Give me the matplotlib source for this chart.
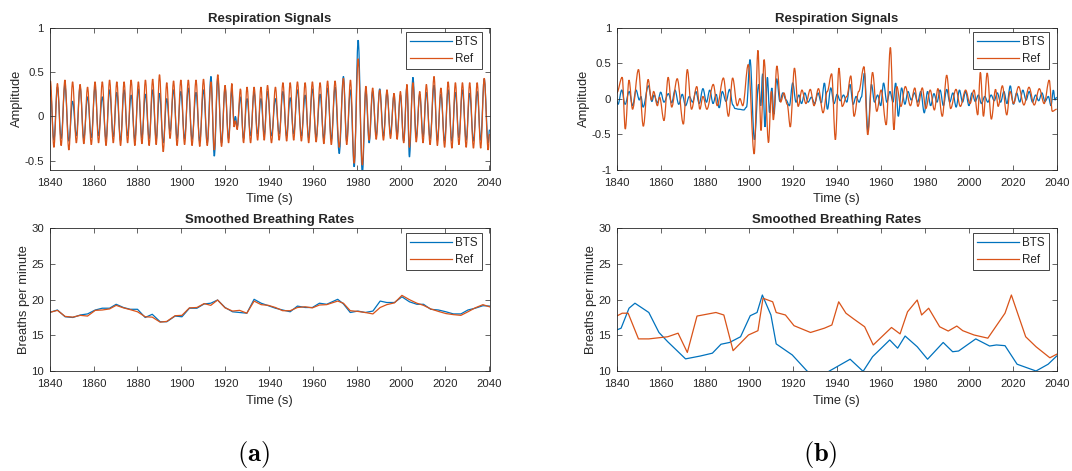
import matplotlib

matplotlib.use("Agg")
import matplotlib.pyplot as plt
from matplotlib.lines import Line2D
from matplotlib.patches import PathPatch
from matplotlib.path import Path

# ---- (a) respiration signals: extrema (time, Ref, BTS)
resp_a_t = [
    1840.0, 1840.4, 1842.0, 1843.6, 1845.3, 1847.0, 1848.8, 1850.5, 1852.2, 1853.9,
    1855.6, 1857.3, 1859.0, 1860.7, 1862.3, 1864.0, 1865.7, 1867.3, 1869.0, 1870.6,
    1872.3, 1873.9, 1875.5, 1877.1, 1878.8, 1880.4, 1882.0, 1883.6, 1885.3, 1886.9,
    1888.5, 1890.0, 1891.7, 1893.3, 1894.8, 1896.4, 1898.0, 1899.7, 1901.4, 1903.1,
    1904.8, 1906.6, 1908.3, 1910.0, 1911.7, 1913.4, 1914.9, 1916.5, 1918.2, 1919.8,
    1921.4, 1922.9, 1923.9, 1924.5, 1925.3, 1926.8, 1928.2, 1929.8, 1931.4, 1933.0,
    1934.6, 1936.1, 1937.6, 1939.1, 1940.9, 1942.7, 1944.4, 1946.1, 1947.8, 1949.4,
    1951.0, 1952.7, 1954.5, 1956.2, 1957.8, 1959.5, 1961.2, 1963.0, 1964.7, 1966.4,
    1968.1, 1969.8, 1971.7, 1973.6, 1975.1, 1976.8, 1978.5, 1980.3, 1982.2, 1983.8,
    1985.3, 1986.9, 1988.5, 1990.1, 1991.8, 1993.4, 1995.0, 1996.6, 1998.0, 1999.5,
    2001.0, 2002.5, 2003.6, 2005.2, 2006.7, 2008.3, 2009.8, 2011.3, 2013.0, 2014.8,
    2016.3, 2017.9, 2019.6, 2021.2, 2022.9, 2024.5, 2026.1, 2027.7, 2029.4, 2031.0,
    2032.7, 2034.4, 2036.0, 2037.6, 2039.4, 2040.0,
]
resp_a_ref = [
    0.30, 0.40, -0.35, 0.37, -0.33, 0.41, -0.38, 0.39, -0.30, 0.36,
    -0.31, 0.33, -0.32, 0.39, -0.30, 0.39, -0.33, 0.41, -0.30, 0.39,
    -0.33, 0.39, -0.30, 0.41, -0.33, 0.39, -0.31, 0.41, -0.33, 0.42,
    -0.32, 0.47, -0.40, 0.38, -0.25, 0.40, -0.33, 0.41, -0.32, 0.41,
    -0.33, 0.41, -0.34, 0.42, -0.33, 0.39, -0.38, 0.47, -0.34, 0.35,
    -0.30, 0.37, -0.12, -0.05, -0.15, 0.31, -0.30, 0.33, -0.30, 0.33,
    -0.27, 0.33, -0.27, 0.35, -0.30, 0.33, -0.27, 0.38, -0.28, 0.38,
    -0.27, 0.39, -0.28, 0.38, -0.30, 0.39, -0.29, 0.38, -0.31, 0.40,
    -0.32, 0.40, -0.35, 0.43, -0.32, 0.41, -0.53, 0.65, -0.55, 0.34,
    -0.27, 0.32, -0.26, 0.30, -0.27, 0.30, -0.25, 0.26, -0.26, 0.28,
    -0.30, 0.36, -0.35, 0.38, -0.29, 0.28, -0.30, 0.36, -0.32, 0.45,
    -0.33, 0.32, -0.35, 0.39, -0.36, 0.38, -0.32, 0.38, -0.35, 0.38,
    -0.36, 0.38, -0.36, 0.43, -0.38, -0.20,
]
resp_a_bts = [
    0.22, 0.30, -0.27, 0.33, -0.25, 0.35, -0.28, 0.17, -0.22, 0.33,
    -0.25, 0.22, -0.24, 0.33, -0.22, 0.22, -0.26, 0.30, -0.23, 0.27,
    -0.27, 0.30, -0.22, 0.24, -0.26, 0.31, -0.24, 0.25, -0.25, 0.30,
    -0.26, 0.26, -0.30, 0.20, -0.17, 0.30, -0.25, 0.28, -0.25, 0.32,
    -0.26, 0.27, -0.28, 0.30, -0.30, 0.45, -0.45, 0.43, -0.30, 0.32,
    -0.25, 0.30, -0.08, 0.00, -0.12, 0.22, -0.25, 0.20, -0.22, 0.27,
    -0.20, 0.20, -0.21, 0.28, -0.22, 0.20, -0.20, 0.28, -0.22, 0.21,
    -0.20, 0.30, -0.22, 0.24, -0.24, 0.31, -0.24, 0.25, -0.25, 0.32,
    -0.26, 0.33, -0.42, 0.45, -0.28, 0.30, -0.57, 0.86, -0.65, 0.30,
    -0.30, 0.28, -0.22, 0.31, -0.22, 0.27, -0.20, 0.24, -0.21, 0.24,
    -0.28, 0.34, -0.46, 0.44, -0.24, 0.25, -0.23, 0.27, -0.25, 0.35,
    -0.27, 0.25, -0.28, 0.30, -0.28, 0.27, -0.24, 0.30, -0.27, 0.26,
    -0.28, 0.28, -0.27, 0.42, -0.30, -0.15,
]

# ---- (b) respiration signals, the two series are out of phase
resp_b_ref_t = [
    1840.0, 1842.5, 1843.9, 1845.6, 1847.2, 1849.9, 1852.1, 1854.3, 1855.8, 1856.8,
    1858.5, 1859.5, 1861.5, 1863.4, 1865.0, 1867.5, 1870.3, 1872.1, 1874.0, 1876.4,
    1877.8, 1879.2, 1881.0, 1883.9, 1885.7, 1888.5, 1890.8, 1892.7, 1894.8, 1896.0,
    1897.3, 1899.8, 1902.5, 1904.2, 1905.6, 1907.0, 1909.0, 1910.3, 1911.2, 1912.8,
    1914.5, 1916.0, 1917.5, 1918.9, 1920.8, 1922.5, 1924.2, 1926.0, 1928.0, 1929.7,
    1931.7, 1933.8, 1935.7, 1937.7, 1939.4, 1941.0, 1942.5, 1944.6, 1946.4, 1947.9,
    1950.0, 1952.4, 1954.1, 1956.3, 1958.2, 1960.2, 1962.5, 1964.4, 1966.0, 1967.3,
    1969.2, 1971.2, 1973.5, 1975.5, 1976.9, 1978.9, 1980.5, 1982.5, 1984.4, 1986.0,
    1988.0, 1990.0, 1991.8, 1994.2, 1996.2, 1998.6, 2000.6, 2002.4, 2004.1, 2005.3,
    2006.7, 2008.4, 2010.3, 2012.2, 2013.4, 2015.3, 2017.3, 2018.8, 2020.4, 2022.7,
    2025.1, 2027.4, 2029.8, 2032.1, 2034.3, 2036.6, 2038.0, 2040.0,
]
resp_b_ref = [
    0.08, 0.30, -0.43, 0.26, -0.15, 0.41, -0.39, 0.27, -0.02, 0.10,
    -0.10, 0.02, -0.31, 0.30, -0.12, 0.28, -0.36, 0.41, -0.15, 0.17,
    -0.15, 0.03, -0.15, 0.20, -0.10, 0.29, -0.25, 0.29, -0.10, 0.00,
    -0.10, 0.48, -0.78, 0.68, -0.45, 0.55, -0.62, 0.10, -0.30, 0.46,
    -0.05, 0.08, -0.08, -0.40, 0.43, -0.11, 0.12, -0.07, 0.13, -0.10,
    0.14, -0.20, 0.10, 0.35, -0.58, 0.43, -0.11, 0.03, 0.32, -0.25,
    0.10, 0.45, -0.51, 0.37, -0.18, 0.12, -0.37, 0.72, -0.44, 0.17,
    -0.11, 0.17, -0.10, 0.15, -0.11, 0.15, -0.14, 0.12, -0.16, 0.14,
    -0.25, 0.33, -0.14, 0.13, -0.11, 0.12, -0.07, 0.12, -0.23, 0.37,
    -0.25, 0.36, -0.29, 0.13, -0.11, 0.18, -0.23, 0.10, -0.07, 0.17,
    -0.09, 0.16, -0.09, 0.14, -0.07, 0.26, -0.18, -0.15,
]
resp_b_bts_t = [
    1840.0, 1840.6, 1842.3, 1843.8, 1845.7, 1847.2, 1848.8, 1850.3, 1851.0, 1852.0,
    1854.4, 1856.0, 1857.0, 1858.5, 1860.0, 1861.5, 1863.5, 1865.0, 1866.5, 1868.2,
    1869.8, 1871.3, 1873.0, 1874.5, 1876.0, 1877.5, 1879.2, 1880.8, 1882.3, 1883.8,
    1885.2, 1886.6, 1888.0, 1889.7, 1891.3, 1892.8, 1893.8, 1895.5, 1897.8, 1899.0,
    1900.6, 1902.6, 1904.5, 1905.5, 1906.3, 1907.4, 1908.5, 1909.5, 1910.5, 1911.5,
    1912.7, 1914.2, 1915.5, 1917.0, 1918.5, 1920.0, 1921.5, 1922.8, 1924.0, 1925.5,
    1927.0, 1928.5, 1930.0, 1931.5, 1933.0, 1934.4, 1935.8, 1937.3, 1938.8, 1940.2,
    1941.6, 1943.1, 1944.6, 1946.0, 1947.5, 1948.8, 1950.2, 1951.2, 1952.6, 1954.2,
    1955.8, 1957.2, 1958.6, 1960.0, 1961.3, 1962.8, 1964.2, 1965.6, 1966.8, 1968.0,
    1969.5, 1971.0, 1972.4, 1973.9, 1975.3, 1976.8, 1978.2, 1979.8, 1981.3, 1982.7,
    1984.2, 1985.6, 1987.0, 1988.5, 1990.0, 1991.4, 1992.8, 1994.3, 1995.8, 1997.2,
    1998.6, 2000.1, 2001.5, 2003.0, 2004.4, 2005.8, 2007.3, 2008.7, 2010.2, 2011.6,
    2013.0, 2014.5, 2016.0, 2017.4, 2018.9, 2020.3, 2021.8, 2023.2, 2024.6, 2026.1,
    2027.5, 2029.0, 2030.4, 2031.8, 2033.3, 2034.7, 2036.2, 2037.4, 2038.5, 2039.2,
    2040.0,
]
resp_b_bts = [
    -0.03, -0.08, 0.12, -0.08, 0.10, -0.10, 0.12, -0.02, 0.03, -0.12,
    0.18, -0.04, 0.05, -0.06, 0.09, -0.05, 0.07, -0.06, 0.12, -0.08,
    0.06, -0.10, 0.03, -0.05, 0.10, -0.07, 0.14, -0.05, 0.12, -0.07,
    0.06, -0.13, 0.10, -0.04, 0.13, -0.09, -0.14, -0.15, -0.16, -0.12,
    0.55, -0.58, 0.20, -0.10, 0.35, -0.40, 0.30, -0.20, 0.15, -0.22,
    0.28, -0.04, 0.08, -0.02, -0.10, 0.22, -0.05, 0.05, -0.07, 0.08,
    -0.05, 0.02, -0.07, 0.08, -0.06, 0.22, -0.15, 0.15, -0.07, 0.06,
    -0.03, 0.05, -0.05, 0.20, -0.08, 0.03, -0.05, 0.02, 0.36, -0.45,
    0.20, -0.05, 0.05, -0.10, 0.22, -0.05, 0.10, -0.05, 0.22, -0.25,
    0.15, -0.08, 0.10, -0.02, 0.08, -0.05, 0.10, -0.20, 0.10, -0.10,
    0.07, -0.05, 0.12, -0.10, 0.13, -0.05, 0.08, -0.12, 0.12, -0.05,
    0.10, -0.10, 0.08, -0.04, 0.05, -0.07, 0.03, -0.05, 0.05, -0.03,
    0.08, -0.05, 0.10, -0.07, 0.18, -0.08, 0.08, -0.05, 0.12, -0.02,
    0.10, -0.05, 0.05, -0.03, 0.08, -0.04, 0.03, -0.10, 0.12, -0.02,
    0.02,
]

# ---- (a) smoothed breathing rates
rate_a_t = [
    1840.0, 1843.6, 1847.1, 1850.6, 1854.0, 1857.3, 1860.8, 1864.0, 1867.3, 1870.3,
    1873.6, 1876.7, 1880.0, 1883.5, 1886.7, 1890.3, 1893.3, 1897.1, 1900.2, 1903.6,
    1907.0, 1910.3, 1913.3, 1916.4, 1919.8, 1923.2, 1926.4, 1929.7, 1933.0, 1936.2,
    1939.5, 1942.7, 1946.0, 1949.4, 1952.7, 1956.2, 1959.5, 1962.7, 1966.0, 1971.0,
    1973.6, 1976.7, 1980.2, 1983.5, 1987.0, 1990.3, 1993.3, 1996.8, 2000.2, 2003.6,
    2007.0, 2010.0, 2013.3, 2016.8, 2020.2, 2023.6, 2027.0, 2030.2, 2033.5, 2037.0,
    2040.0,
]
rate_a_bts = [
    18.20, 18.55, 17.60, 17.50, 17.85, 18.00, 18.55, 18.80, 18.80, 19.35,
    18.90, 18.65, 18.65, 17.50, 17.95, 16.90, 16.90, 17.70, 17.60, 18.80,
    18.80, 19.40, 19.50, 19.95, 18.90, 18.30, 18.20, 18.10, 20.05, 19.50,
    19.15, 18.80, 18.55, 18.30, 19.10, 18.90, 18.90, 19.50, 19.35, 20.05,
    19.40, 18.20, 18.40, 18.20, 18.40, 19.80, 19.60, 19.60, 20.40, 19.70,
    19.35, 19.35, 18.65, 18.55, 18.30, 18.00, 18.00, 18.55, 18.80, 19.15,
    19.10,
]
rate_a_ref = [
    18.20, 18.50, 17.65, 17.55, 17.80, 17.70, 18.50, 18.55, 18.70, 19.20,
    18.85, 18.60, 18.30, 17.60, 17.55, 16.85, 16.95, 17.75, 17.80, 18.85,
    18.90, 19.45, 19.20, 19.95, 18.85, 18.40, 18.50, 18.10, 19.80, 19.30,
    19.20, 18.90, 18.45, 18.45, 18.90, 19.00, 18.85, 19.25, 19.30, 19.80,
    19.50, 18.45, 18.35, 18.20, 18.00, 18.90, 19.30, 19.55, 20.60, 20.00,
    19.50, 19.20, 18.70, 18.35, 18.05, 17.90, 17.80, 18.30, 18.85, 19.30,
    19.00,
]

# ---- (b) smoothed breathing rates
rate_b_bts_t = [
    1840.0, 1842.0, 1845.6, 1848.3, 1854.6, 1859.2, 1863.2, 1871.3, 1878.0, 1883.5,
    1887.4, 1891.3, 1896.3, 1900.7, 1903.8, 1906.2, 1910.1, 1912.5, 1919.8, 1926.5,
    1931.5, 1936.7, 1946.1, 1952.0, 1956.3, 1964.1, 1967.7, 1971.1, 1976.6, 1981.3,
    1988.4, 1992.7, 1995.4, 2003.2, 2009.5, 2012.6, 2016.5, 2022.0, 2030.6, 2036.1,
    2040.0,
]
rate_b_bts = [
    15.75, 16.00, 18.80, 19.50, 18.20, 15.40, 14.10, 11.70, 12.10, 12.50,
    13.75, 14.00, 14.80, 17.75, 18.20, 20.65, 17.85, 13.80, 12.25, 10.00,
    9.00, 10.00, 11.65, 9.95, 12.00, 14.35, 13.20, 14.90, 13.40, 11.65,
    14.00, 12.70, 12.80, 14.50, 13.50, 13.65, 13.55, 10.95, 10.00, 10.95,
    12.10,
]
rate_b_ref_t = [
    1840.0, 1842.5, 1845.2, 1849.9, 1854.6, 1863.2, 1867.9, 1872.1, 1876.5, 1885.1,
    1888.7, 1892.9, 1899.9, 1904.2, 1906.5, 1910.9, 1912.5, 1916.7, 1920.6, 1928.1,
    1934.4, 1937.8, 1940.9, 1944.2, 1947.7, 1952.7, 1956.6, 1960.5, 1964.9, 1968.8,
    1972.2, 1976.6, 1978.6, 1981.8, 1986.8, 1990.7, 1994.6, 1997.3, 2002.4, 2008.7,
    2016.5, 2019.4, 2022.5, 2025.9, 2030.6, 2036.9, 2040.0,
]
rate_b_ref = [
    17.70, 18.10, 18.10, 14.50, 14.50, 14.80, 15.30, 12.60, 17.70, 18.20,
    17.85, 12.85, 15.05, 15.65, 20.20, 19.70, 18.20, 17.85, 16.35, 15.40,
    16.00, 16.45, 19.70, 18.10, 17.30, 16.20, 13.65, 14.80, 16.10, 15.20,
    18.30, 19.95, 17.85, 18.80, 16.20, 15.60, 16.30, 15.65, 15.05, 14.60,
    18.10, 20.65, 17.85, 14.80, 13.40, 11.85, 12.35,
]

time_ticks = list(range(1840, 2041, 20))
series_names = ["BTS", "Ref"]
captions = ["(a)", "(b)"]

BLUE = "#0072BD"
ORANGE = "#D95319"
DARK = "#262626"
LW = 0.9

plt.rcParams.update({
    "font.family": ["Liberation Sans", "DejaVu Sans"],
    "font.size": 9.3,
    "text.color": DARK,
    "axes.labelcolor": DARK,
    "axes.edgecolor": DARK,
    "axes.linewidth": 0.6,
    "xtick.color": DARK,
    "ytick.color": DARK,
    "xtick.direction": "in",
    "ytick.direction": "in",
    "xtick.top": True,
    "ytick.right": True,
    "xtick.major.size": 3.5,
    "ytick.major.size": 3.5,
    "xtick.major.width": 0.5,
    "ytick.major.width": 0.5,
    "xtick.labelsize": 8.2,
    "ytick.labelsize": 8.2,
    "mathtext.fontset": "cm",
})

fig = plt.figure(figsize=(10.72, 4.71), dpi=100)

W = 1072.0
H = 471.0
col_left = [49.5, 616.7]
ax_w = 440.0
top_box = (27.7, 169.5)
bot_box = (228.3, 371.0)


def make_axes(x0, box):
    y0, y1 = box
    return fig.add_axes([x0 / W, 1 - y1 / H, ax_w / W, (y1 - y0) / H])


def smooth_trace(ax, t, v, color):
    # extrema joined by cubic curves with flat tangents, so the trace looks
    # like the sampled breathing waveform instead of a zigzag
    verts = [(t[0], v[0])]
    codes = [Path.MOVETO]
    for i in range(1, len(t)):
        dt = t[i] - t[i - 1]
        verts += [(t[i - 1] + 0.36 * dt, v[i - 1]), (t[i] - 0.36 * dt, v[i]), (t[i], v[i])]
        codes += [Path.CURVE4] * 3
    ax.add_patch(PathPatch(Path(verts, codes), fill=False, edgecolor=color, lw=LW))


def finish(ax, title, ylabel, ylim, yticks, yticklabels):
    ax.set_xlim(1840, 2040)
    ax.set_ylim(*ylim)
    ax.set_xticks(time_ticks)
    ax.set_yticks(yticks)
    ax.set_yticklabels(yticklabels)
    ax.set_title(title, fontsize=9.5, fontweight="bold", pad=4)
    ax.set_xlabel("Time (s)", labelpad=4)
    ax.set_ylabel(ylabel, labelpad=1)
    ax.tick_params(axis="x", pad=6)
    ax.tick_params(axis="y", pad=4)
    handles = [Line2D([], [], color=BLUE, lw=LW), Line2D([], [], color=ORANGE, lw=LW)]
    leg = ax.legend(
        handles,
        series_names,
        loc="upper right",
        bbox_to_anchor=(0.982, 0.968),
        handlelength=3.6,
        handletextpad=0.25,
        borderpad=0.35,
        labelspacing=0.4,
        borderaxespad=0.0,
        fancybox=False,
        framealpha=1.0,
        fontsize=8.4,
    )
    leg.get_frame().set_edgecolor(DARK)
    leg.get_frame().set_linewidth(0.6)


amp_a_ticks = [-0.5, 0, 0.5, 1]
amp_a_labels = ["-0.5", "0", "0.5", "1"]
amp_b_ticks = [-1, -0.5, 0, 0.5, 1]
amp_b_labels = ["-1", "-0.5", "0", "0.5", "1"]
rate_ticks = [10, 15, 20, 25, 30]

# (a) top
ax = make_axes(col_left[0], top_box)
smooth_trace(ax, resp_a_t, resp_a_bts, BLUE)
smooth_trace(ax, resp_a_t, resp_a_ref, ORANGE)
finish(ax, "Respiration Signals", "Amplitude", (-0.6, 1), amp_a_ticks, amp_a_labels)

# (b) top
ax = make_axes(col_left[1], top_box)
smooth_trace(ax, resp_b_bts_t, resp_b_bts, BLUE)
smooth_trace(ax, resp_b_ref_t, resp_b_ref, ORANGE)
finish(ax, "Respiration Signals", "Amplitude", (-1, 1), amp_b_ticks, amp_b_labels)

# (a) bottom
ax = make_axes(col_left[0], bot_box)
ax.plot(rate_a_t, rate_a_bts, color=BLUE, lw=LW)
ax.plot(rate_a_t, rate_a_ref, color=ORANGE, lw=LW)
finish(ax, "Smoothed Breathing Rates", "Breaths per minute", (10, 30),
       rate_ticks, [str(v) for v in rate_ticks])

# (b) bottom
ax = make_axes(col_left[1], bot_box)
ax.plot(rate_b_bts_t, rate_b_bts, color=BLUE, lw=LW)
ax.plot(rate_b_ref_t, rate_b_ref, color=ORANGE, lw=LW)
finish(ax, "Smoothed Breathing Rates", "Breaths per minute", (10, 30),
       rate_ticks, [str(v) for v in rate_ticks])

# subfigure captions
for x_px, cap in zip([253, 820], captions):
    fig.text(x_px / W, 1 - 455 / H, r"$\mathbf{" + cap + "}$",
             ha="center", va="center", fontsize=19, color="black")

fig.savefig("out.png", dpi=100)
